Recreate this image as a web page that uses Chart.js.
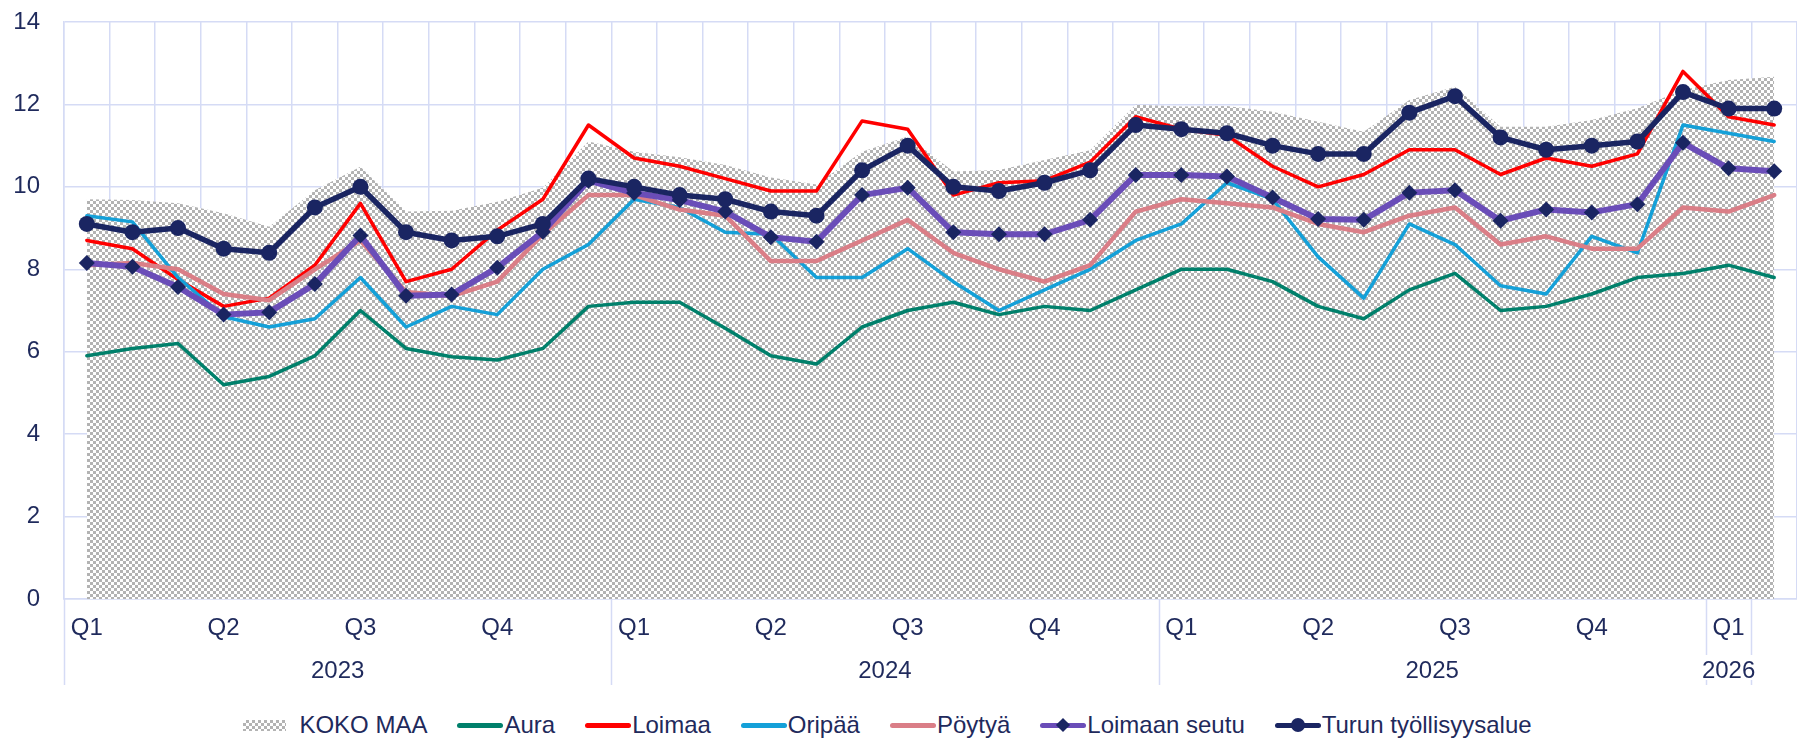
<!DOCTYPE html>
<html lang="fi">
<head>
<meta charset="utf-8">
<title>Työttömät työnhakijat, %</title>
<script src="https://cdn.jsdelivr.net/npm/chart.js@4/dist/chart.umd.min.js"></script>
<style>
  html, body { margin: 0; padding: 0; background: #fff; }
  #wrap { position: relative; width: 1797px; height: 741px; overflow: hidden; }
  #chart { display: block; }
  #legend {
    position: absolute; left: 0; top: 705px; width: 1797px; height: 40px;
    box-sizing: border-box; padding-right: 22px;
    display: flex; justify-content: center; align-items: center; gap: 30px;
    font: 24px "Liberation Sans", Arial, sans-serif; color: #1F2A5C;
  }
  .item { display: flex; align-items: center; white-space: nowrap; }
  .box { width: 43px; height: 11px; margin-right: 13px;
         background: repeating-conic-gradient(#b3b3b3 0 25%, #fff 0 50%) 0 0 / 6px 6px; }
  .line { position: relative; width: 46px; height: 5px; border-radius: 3px; margin-right: 1px; }
  .dia { position: absolute; left: 18px; top: -3px; width: 10px; height: 10px; transform: rotate(45deg); }
  .dot { position: absolute; left: 16px; top: -4.5px; width: 14px; height: 14px; border-radius: 50%; }
</style>
</head>
<body>
<div id="wrap">
  <canvas id="chart" width="1797" height="705"></canvas>
  <div id="legend"></div>
</div>
<script>
// KUUKAUDET 1/2023 - 2/2026
const months = [
  "2023-01","2023-02","2023-03","2023-04","2023-05","2023-06","2023-07","2023-08","2023-09","2023-10","2023-11","2023-12",
  "2024-01","2024-02","2024-03","2024-04","2024-05","2024-06","2024-07","2024-08","2024-09","2024-10","2024-11","2024-12",
  "2025-01","2025-02","2025-03","2025-04","2025-05","2025-06","2025-07","2025-08","2025-09","2025-10","2025-11","2025-12",
  "2026-01","2026-02"
];
const quarterLabels = [
  "Q1","","","Q2","","","Q3","","","Q4","","",
  "Q1","","","Q2","","","Q3","","","Q4","","",
  "Q1","","","Q2","","","Q3","","","Q4","","",
  "Q1",""
];
const yearLabels = ["2023", "2024", "2025", "2026"];
const yearCenters = [5.5, 17.5, 29.5, 36];

// SARJAT (%)
const kokoMaa = [9.7, 9.68, 9.6, 9.36, 9.03, 9.92, 10.49, 9.4, 9.42, 9.64, 9.98, 11.1,
  10.85, 10.72, 10.53, 10.23, 10.06, 10.85, 11.22, 10.37, 10.41, 10.65, 10.89, 11.99,
  11.95, 11.96, 11.82, 11.58, 11.34, 12.11, 12.43, 11.46, 11.46, 11.62, 11.91, 12.35,
  12.59, 12.67];
const aura = [5.9, 6.08, 6.2, 5.2, 5.4, 5.9, 7.0, 6.08, 5.88, 5.8, 6.08, 7.1,
  7.2, 7.2, 6.57, 5.9, 5.7, 6.6, 7.0, 7.2, 6.9, 7.1, 7.0, 7.5,
  8.0, 8.0, 7.7, 7.1, 6.8, 7.5, 7.9, 7.0, 7.1, 7.4, 7.8, 7.9,
  8.1, 7.8];
const loimaa = [8.7, 8.5, 7.75, 7.1, 7.3, 8.1, 9.6, 7.7, 8.0, 8.95, 9.7, 11.5,
  10.7, 10.5, 10.2, 9.9, 9.9, 11.6, 11.4, 9.8, 10.1, 10.15, 10.6, 11.7,
  11.4, 11.25, 10.5, 10.0, 10.3, 10.9, 10.9, 10.3, 10.7, 10.5, 10.8, 12.8,
  11.7, 11.5];
const oripaa = [9.3, 9.15, 7.8, 6.85, 6.6, 6.8, 7.8, 6.6, 7.1, 6.9, 8.0, 8.6,
  9.7, 9.5, 8.9, 8.85, 7.8, 7.8, 8.5, 7.7, 7.0, 7.5, 8.0, 8.7,
  9.1, 10.1, 9.7, 8.3, 7.3, 9.1, 8.6, 7.6, 7.4, 8.8, 8.4, 11.5,
  11.3, 11.1];
const poytya = [8.1, 8.15, 8.0, 7.4, 7.25, 8.0, 8.7, 7.45, 7.35, 7.7, 8.85, 9.8,
  9.8, 9.45, 9.3, 8.2, 8.2, 8.7, 9.2, 8.4, 8.0, 7.7, 8.1, 9.4,
  9.7, 9.6, 9.5, 9.1, 8.9, 9.3, 9.5, 8.6, 8.8, 8.5, 8.5, 9.5,
  9.4, 9.8];
const loimaanSeutu = [8.15, 8.06, 7.57, 6.9, 6.96, 7.64, 8.82, 7.36, 7.39, 8.04, 8.91, 10.15,
  9.85, 9.68, 9.4, 8.78, 8.67, 9.8, 9.98, 8.9, 8.85, 8.85, 9.2, 10.29,
  10.29, 10.25, 9.74, 9.22, 9.2, 9.86, 9.92, 9.18, 9.45, 9.38, 9.58, 11.07,
  10.45, 10.38];
const turku = [9.1, 8.9, 9.0, 8.5, 8.4, 9.5, 10.0, 8.9, 8.7, 8.8, 9.1, 10.2,
  10.0, 9.8, 9.7, 9.4, 9.3, 10.4, 11.0, 10.0, 9.9, 10.1, 10.4, 11.5,
  11.4, 11.3, 11.0, 10.8, 10.8, 11.8, 12.2, 11.2, 10.9, 11.0, 11.1, 12.3,
  11.9, 11.9];

const TEXT = "#1F2A5C";
const GRID = "#D5DBF5";
const NAVY = "#1A2562";
const FONT = { family: "'Liberation Sans', Arial, sans-serif", size: 24 };

// PISTEKUVIO KOKO MAALLE
function dotPattern(ctx) {
  const tile = document.createElement("canvas");
  tile.width = 6; tile.height = 6;
  const t = tile.getContext("2d");
  t.fillStyle = "#fff";
  t.fillRect(0, 0, 6, 6);
  t.fillStyle = "#b3b3b3";
  t.fillRect(0, 0, 3, 3);
  t.fillRect(3, 3, 3, 3);
  return ctx.createPattern(tile, "repeat");
}

function lineSet(label, data, color, width, order) {
  return {
    label, data, order,
    borderColor: color, backgroundColor: color,
    borderWidth: width, borderJoinStyle: "round", borderCapStyle: "round",
    pointRadius: 0, tension: 0, fill: false
  };
}

// vuosien erotinviivat x-akselin alle
const separators = {
  id: "separators",
  afterDraw(chart) {
    const x = chart.scales.x;
    const ctx = chart.ctx;
    const bottom = chart.chartArea.bottom;
    const half = (x.getPixelForValue(1) - x.getPixelForValue(0)) / 2;
    ctx.save();
    ctx.strokeStyle = GRID;
    ctx.lineWidth = 1.5;
    [0, 12, 24].forEach(i => {
      const px = Math.round(x.getPixelForValue(i) - half) + 0.5;
      ctx.beginPath(); ctx.moveTo(px, bottom); ctx.lineTo(px, bottom + 86); ctx.stroke();
    });
    [36, 37].forEach(i => {
      const px = Math.round(x.getPixelForValue(i) - half) + 0.5;
      ctx.beginPath(); ctx.moveTo(px, bottom); ctx.lineTo(px, bottom + 56); ctx.stroke();
      ctx.beginPath(); ctx.moveTo(px, bottom + 81); ctx.lineTo(px, bottom + 86); ctx.stroke();
    });
    ctx.restore();
  }
};

const ctx = document.getElementById("chart").getContext("2d");

const turkuSet = lineSet("Turun työllisyysalue", turku, NAVY, 5.5, 0);
turkuSet.pointStyle = "circle";
turkuSet.pointRadius = 8;
turkuSet.pointBackgroundColor = NAVY;
turkuSet.pointBorderWidth = 0;

const seutuSet = lineSet("Loimaan seutu", loimaanSeutu, "#6A4DB8", 6, 1);
seutuSet.pointStyle = "rectRot";
seutuSet.pointRadius = 8;
seutuSet.pointBackgroundColor = NAVY;
seutuSet.pointBorderWidth = 0;

const datasets = [
  {
    label: "KOKO MAA", data: kokoMaa, order: 6,
    borderWidth: 0, pointRadius: 0, tension: 0,
    fill: "origin", backgroundColor: dotPattern(ctx), borderColor: "rgba(0,0,0,0)"
  },
  lineSet("Aura", aura, "#00806B", 3.5, 5),
  lineSet("Loimaa", loimaa, "#FF0000", 3.5, 4),
  lineSet("Oripää", oripaa, "#14A0D8", 3.5, 3),
  lineSet("Pöytyä", poytya, "#DA7E87", 4.5, 2),
  seutuSet,
  turkuSet
];

new Chart(ctx, {
  type: "line",
  data: { labels: months, datasets },
  plugins: [separators],
  options: {
    responsive: false,
    animation: false,
    events: [],
    layout: { autoPadding: false, padding: { top: 22, right: 0, bottom: 0, left: 0 } },
    plugins: { legend: { display: false }, tooltip: { enabled: false } },
    scales: {
      x: {
        type: "category",
        position: "bottom",
        weight: 0,
        offset: true,
        grid: { color: GRID, lineWidth: 1.5, offset: true, drawTicks: false },
        border: { color: GRID, width: 1.5 },
        ticks: {
          autoSkip: false, maxRotation: 0, padding: 15,
          color: TEXT, font: FONT,
          callback: (v, i) => quarterLabels[i]
        },
        afterFit: s => { s.height = 43; }
      },
      years: {
        type: "linear",
        position: "bottom",
        weight: 1,
        min: -0.5,
        max: 37.5,
        grid: { display: false, drawTicks: false },
        border: { display: false },
        ticks: {
          autoSkip: false, maxRotation: 0, padding: 15,
          color: TEXT, font: FONT,
          callback: v => yearLabels[yearCenters.indexOf(v)]
        },
        afterBuildTicks: s => { s.ticks = yearCenters.map(v => ({ value: v })); },
        afterFit: s => { s.height = 63; }
      },
      y: {
        min: 0, max: 14,
        grid: { color: GRID, lineWidth: 1.5, drawTicks: true, tickLength: 24, tickColor: "rgba(0,0,0,0)" },
        border: { color: GRID, width: 1.5 },
        ticks: { stepSize: 2, padding: 0, color: TEXT, font: FONT },
        afterFit: s => { s.width = 64; }
      }
    }
  }
});

// SELITE
const legend = document.getElementById("legend");
datasets.forEach(d => {
  const item = document.createElement("div");
  item.className = "item";
  const sw = document.createElement("span");
  if (d.fill === "origin") {
    sw.className = "box";
  } else {
    sw.className = "line";
    sw.style.background = d.borderColor;
    if (d.pointStyle === "rectRot" || d.pointStyle === "circle") {
      const m = document.createElement("span");
      m.className = d.pointStyle === "circle" ? "dot" : "dia";
      m.style.background = d.pointBackgroundColor;
      sw.appendChild(m);
    }
  }
  const txt = document.createElement("span");
  txt.textContent = d.label;
  item.appendChild(sw);
  item.appendChild(txt);
  legend.appendChild(item);
});
</script>
</body>
</html>
